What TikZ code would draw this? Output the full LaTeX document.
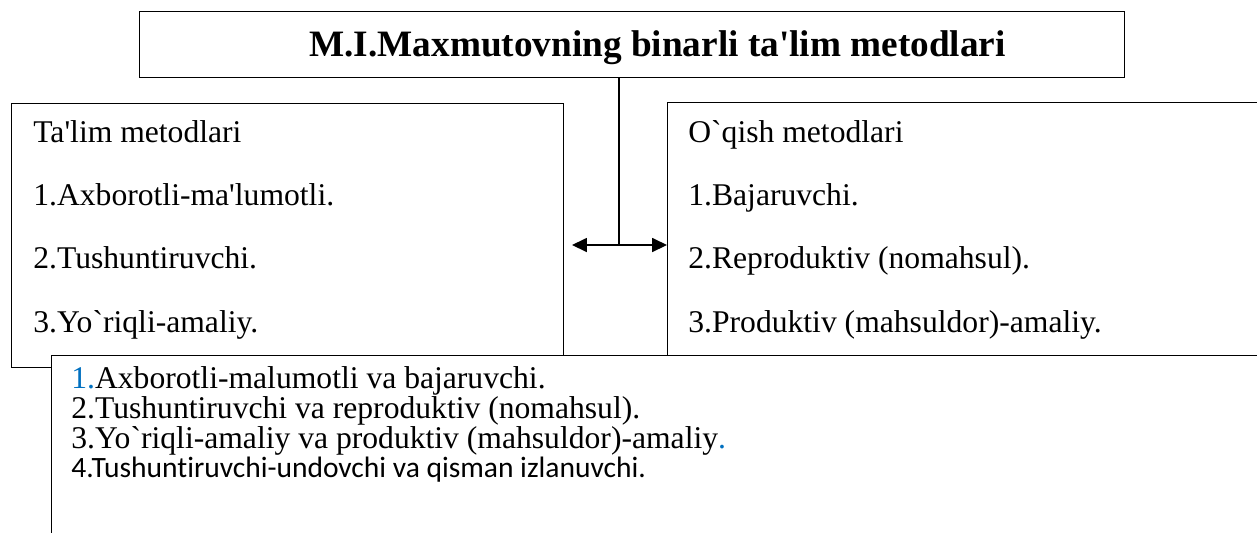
\documentclass[tikz,border=0pt]{standalone}
\usepackage{fontspec}
\setmainfont{Liberation Serif}[Ligatures=TeXOff]
\newfontfamily\calibri{Carlito}[Ligatures=NoCommon]
\usepackage{xcolor}
\usetikzlibrary{arrows.meta, positioning}
\definecolor{wordblue}{RGB}{0,112,192}

\begin{document}
\begin{tikzpicture}[x=0.02cm, y=-0.02cm,
    frame/.style = {rectangle, draw=black, fill=white, line width=0.8pt, inner sep=0pt, anchor=north west},
    entry/.style = {inner sep=0pt, anchor=base west, font=\fontsize{18}{21}\selectfont},
    link/.style = {draw=black, line width=0.8pt},
    arrow/.style = {link, {Triangle[length=8.5pt,width=8pt]}-{Triangle[length=8.5pt,width=8pt]}}
]
\useasboundingbox (0,0) rectangle (1257,532);
\clip (0,0) rectangle (1257,532);

\node (title) [frame, minimum width=19.7cm, minimum height=1.32cm] at (139,11) {};
\node (title_txt) [entry, font=\bfseries\fontsize{21.2}{24}\selectfont] at (309,56) {M.I.Maxmutovning binarli ta'lim metodlari};

\node (m_talim) [frame, minimum width=11.04cm, minimum height=5.28cm] at (11,103) {};
\node (t_head) [entry] at (33,142) {Ta'lim metodlari};
\node (t_one) [entry] at (33,205) {1.Axborotli-ma'lumotli.};
\node (t_two) [entry] at (33,268) {2.Tushuntiruvchi.};
\node (t_three) [entry] at (33,332) {3.Yo`riqli-amaliy.};

\node (m_oqish) [frame, minimum width=12.66cm, minimum height=5.06cm] at (667,102) {};
\node (o_head) [entry] at (688,142) {O`qish metodlari};
\node (o_one) [entry] at (688,205) {1.Bajaruvchi.};
\node (o_two) [entry] at (688,268) {2.Reproduktiv (nomahsul).};
\node (o_three) [entry] at (688,332) {3.Produktiv (mahsuldor)-amaliy.};

\node (m_binar) [frame, minimum width=24.98cm, minimum height=4.1cm] at (51,355) {};
\node (b_one) [entry] at (71,388) {\textcolor{wordblue}{1.}Axborotli-malumotli va bajaruvchi.};
\node (b_two) [entry] at (71,418) {2.Tushuntiruvchi va reproduktiv (nomahsul).};
\node (b_three) [entry] at (71,448) {3.Yo`riqli-amaliy va produktiv (mahsuldor)-amaliy\textcolor{wordblue}{.}};
\node (b_four) [entry, font=\calibri\fontsize{16.8}{19}\selectfont] at (71,477) {4.Tushuntiruvchi-undovchi va qisman izlanuvchi.};

\coordinate (hub) at (619,245);
\coordinate (tip_l) at (572,245);
\draw [link] (title.south -| hub) -- (hub);
\draw [arrow] (tip_l) -- (m_oqish.west |- hub);

\end{tikzpicture}
\end{document}
